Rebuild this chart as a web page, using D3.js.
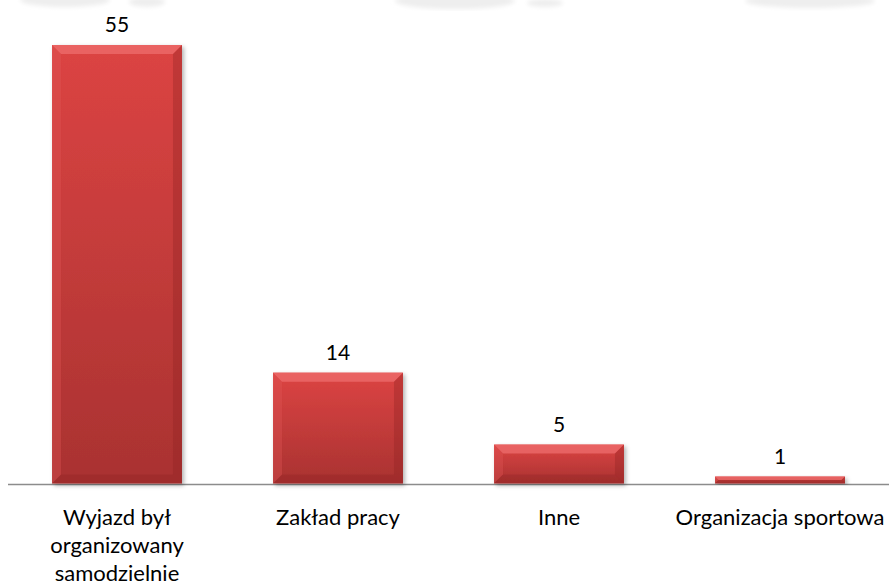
<!DOCTYPE html>
<html>
<head>
<meta charset="utf-8">
<script src="https://cdn.jsdelivr.net/npm/d3@7"></script>
<style>
  html, body { margin: 0; padding: 0; background: #ffffff; }
  svg { display: block; }
  text { font-family: Lato, "Open Sans", sans-serif; fill: #000; }
</style>
</head>
<body>
<svg id="chart" width="889" height="586"></svg>
<script>
// ---- data ----
const categories = ["Wyjazd był organizowany samodzielnie", "Zakład pracy", "Inne", "Organizacja sportowa"];
const values = [55, 14, 5, 1];

// ---- layout ----
const W = 889, H = 586;
const baseY = 484.5;
const svg = d3.select("#chart");

const x = d3.scaleBand()
  .domain(categories)
  .range([6.5, 890.5])
  .paddingInner(0.412)
  .paddingOuter(0.206);

const y = d3.scaleLinear()
  .domain([0, 55])
  .range([baseY, 45]);

const defs = svg.append("defs");
const grad = defs.append("linearGradient")
  .attr("id", "barGrad").attr("x1", 0).attr("y1", 0).attr("x2", 0).attr("y2", 1);
grad.append("stop").attr("offset", "0%").attr("stop-color", "#dc4443");
grad.append("stop").attr("offset", "100%").attr("stop-color", "#a93231");

const shadow = defs.append("filter").attr("id", "shadow")
  .attr("x", "-10%").attr("y", "-10%").attr("width", "130%").attr("height", "130%");
shadow.append("feDropShadow")
  .attr("dx", 2).attr("dy", 2).attr("stdDeviation", 2)
  .attr("flood-color", "#000").attr("flood-opacity", 0.3);

const blur = defs.append("filter").attr("id", "blur");
blur.append("feGaussianBlur").attr("stdDeviation", 2);

// faint watermark remnants at top edge
const wm = svg.append("g").attr("filter", "url(#blur)").attr("fill", "#eeeeee");
[[65, 0, 45, 7], [147, 2, 18, 5], [455, 1, 60, 8], [545, 3, 18, 4], [810, 1, 65, 7]]
  .forEach(e => wm.append("ellipse").attr("cx", e[0]).attr("cy", e[1]).attr("rx", e[2]).attr("ry", e[3]));

// axis line
svg.append("line")
  .attr("x1", 8).attr("x2", W)
  .attr("y1", baseY).attr("y2", baseY)
  .attr("stroke", "#8c8c8c").attr("stroke-width", 1.5);

const bars = svg.append("g").selectAll("g.bar")
  .data(categories.map((c, i) => ({ c, v: values[i] })))
  .join("g").attr("class", "bar");

bars.each(function(d) {
  const g = d3.select(this);
  const x0 = x(d.c), bw = x.bandwidth();
  const y0 = y(d.v), y1 = y(0) - 1;
  const h = y1 - y0;
  const b = Math.min(9, h / 2);
  g.append("rect")
    .attr("x", x0).attr("y", y0).attr("width", bw).attr("height", h)
    .attr("fill", "url(#barGrad)")
    .attr("filter", "url(#shadow)");
  const x1 = x0 + bw;
  g.append("path") // top
    .attr("d", `M${x0},${y0}L${x1},${y0}L${x1 - b},${y0 + b}L${x0 + b},${y0 + b}Z`)
    .attr("fill", "#f07070").attr("opacity", 0.7);
  g.append("path") // left
    .attr("d", `M${x0},${y0}L${x0 + b},${y0 + b}L${x0 + b},${y1 - b}L${x0},${y1}Z`)
    .attr("fill", "#e05656").attr("opacity", 0.35);
  g.append("path") // right
    .attr("d", `M${x1},${y0}L${x1 - b},${y0 + b}L${x1 - b},${y1 - b}L${x1},${y1}Z`)
    .attr("fill", "#8e2222").attr("opacity", 0.35);
  g.append("path") // bottom
    .attr("d", `M${x0},${y1}L${x0 + b},${y1 - b}L${x1 - b},${y1 - b}L${x1},${y1}Z`)
    .attr("fill", "#8a2020").attr("opacity", 0.3);
  g.append("text")
    .attr("x", x0 + bw / 2).attr("y", y0 - 13)
    .attr("text-anchor", "middle")
    .attr("font-size", 21)
    .text(d.v);
});

// category labels with wrapping
const labels = svg.append("g");
categories.forEach(c => {
  const cx = x(c) + x.bandwidth() / 2;
  const t = labels.append("text")
    .attr("x", cx)
    .attr("y", 525)
    .attr("text-anchor", "middle")
    .attr("font-size", 22);
  const words = c.split(" ");
  let line = [];
  let ts = t.append("tspan").attr("x", cx).attr("dy", 0);
  words.forEach(w => {
    line.push(w);
    ts.text(line.join(" "));
    if (ts.node().getComputedTextLength() > 215 && line.length > 1) {
      line.pop();
      ts.text(line.join(" "));
      line = [w];
      ts = t.append("tspan").attr("x", cx).attr("dy", 28).text(w);
    }
  });
});
</script>
</body>
</html>
